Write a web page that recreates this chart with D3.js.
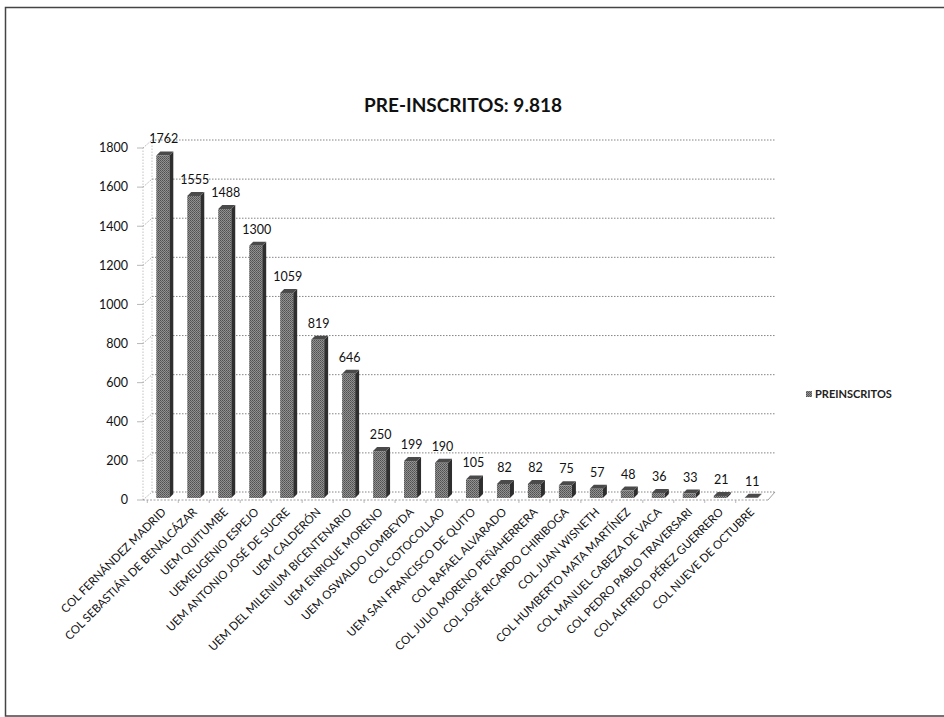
<!DOCTYPE html>
<html><head><meta charset="utf-8">
<script src="https://cdn.jsdelivr.net/npm/d3@7"></script>
<style>body{margin:0;background:#fff}svg{display:block}</style>
</head><body>
<svg id="c" width="944" height="717"></svg>
<script>
const categories = ["COL FERNÁNDEZ MADRID","COL SEBASTIÁN DE BENALCÁZAR","UEM QUITUMBE","UEMEUGENIO ESPEJO","UEM ANTONIO JOSÉ DE SUCRE","UEM CALDERÓN","UEM DEL MILENIUM BICENTENARIO","UEM ENRIQUE MORENO","UEM OSWALDO LOMBEYDA","COL COTOCOLLAO","UEM SAN FRANCISCO DE QUITO","COL RAFAEL ALVARADO","COL JULIO MORENO PEÑAHERRERA","COL JOSÉ RICARDO CHIRIBOGA","COL JUAN WISNETH","COL HUMBERTO MATA MARTÍNEZ","COL  MANUEL CABEZA DE VACA","COL PEDRO PABLO TRAVERSARI","COL ALFREDO PÉREZ GUERRERO","COL NUEVE DE OCTUBRE"];
const values = [1762,1555,1488,1300,1059,819,646,250,199,190,105,82,82,75,57,48,36,33,21,11];
const yTicks = [0,200,400,600,800,1000,1200,1400,1600,1800];
const title = "PRE-INSCRITOS: 9.818";
const seriesName = "PREINSCRITOS";

const svg = d3.select("#c");
const font = "Lato, 'Open Sans', sans-serif";
const wall = {dx: 9, dy: -8};

// outer frame
svg.append("rect").attr("x",5.5).attr("y",7.5).attr("width",950).attr("height",708.5)
  .attr("fill","none").attr("stroke","#444").attr("stroke-width",1.5);

const x = d3.scaleBand().domain(categories).range([147, 767]).paddingInner(0.58).paddingOuter(0.3);
const y = d3.scaleLinear().domain([0,1800]).range([500,148]);

// back-wall gridlines
const g = svg.append("g");
yTicks.forEach(t=>{
  g.append("line").attr("x1",143+wall.dx).attr("x2",775).attr("y1",y(t)+wall.dy).attr("y2",y(t)+wall.dy)
   .attr("stroke","#666").attr("stroke-width",0.8).attr("stroke-dasharray","1.5,1.5");
  g.append("line").attr("x1",137).attr("x2",143).attr("y1",y(t)).attr("y2",y(t)).attr("stroke","#999").attr("stroke-width",0.7);
  g.append("line").attr("x1",143).attr("x2",143+wall.dx).attr("y1",y(t)).attr("y2",y(t)+wall.dy)
   .attr("stroke","#888").attr("stroke-width",0.7).attr("stroke-dasharray","1.5,1.5");
});
g.append("line").attr("x1",143).attr("x2",143).attr("y1",y(0)).attr("y2",y(1800)).attr("stroke","#aaa").attr("stroke-width",0.7).attr("stroke-dasharray","1.5,1.5");
g.append("line").attr("x1",143+wall.dx).attr("x2",143+wall.dx).attr("y1",y(0)+wall.dy).attr("y2",y(1800)+wall.dy).attr("stroke","#aaa").attr("stroke-width",0.7).attr("stroke-dasharray","1.5,1.5");
g.append("line").attr("x1",143).attr("x2",768).attr("y1",y(0)).attr("y2",y(0)).attr("stroke","#888").attr("stroke-width",0.8).attr("stroke-dasharray","2,1.5");
g.append("line").attr("x1",768).attr("x2",775).attr("y1",y(0)).attr("y2",y(0)+wall.dy).attr("stroke","#888").attr("stroke-width",0.8);
categories.forEach((c,i)=>{
  const xx = x(c) - x.step()*x.paddingInner()/2;
  g.append("line").attr("x1",xx).attr("x2",xx).attr("y1",y(0)).attr("y2",y(0)+3).attr("stroke","#999").attr("stroke-width",0.7);
});

// y labels
svg.append("g").selectAll("text").data(yTicks).join("text")
  .attr("x",128).attr("y",d=>y(d)).attr("dy","0.35em").attr("text-anchor","end")
  .attr("font-family",font).attr("font-size",12.5).attr("fill","#111").text(d=>d);

// pattern for texture
const defs = svg.append("defs");
const pat = defs.append("pattern").attr("id","dots").attr("width",2).attr("height",2).attr("patternUnits","userSpaceOnUse");
pat.append("rect").attr("width",2).attr("height",2).attr("fill","#919191");
pat.append("rect").attr("width",1).attr("height",1).attr("fill","#505050");
pat.append("rect").attr("x",1).attr("y",1).attr("width",1).attr("height",1).attr("fill","#606060");

// bars
const bd = {dx: 4, dy: -4};
const bars = svg.append("g");
categories.forEach((c,i)=>{
  const v = values[i];
  const x0 = x(c), w = x.bandwidth(), yt = y(v), yb = y(0)-2;
  bars.append("path").attr("d",`M${x0+w},${yt}L${x0+w+bd.dx},${yt+bd.dy}L${x0+w+bd.dx},${yb+bd.dy}L${x0+w},${yb}Z`).attr("fill","#2e2e2e");
  bars.append("path").attr("d",`M${x0},${yt}L${x0+bd.dx},${yt+bd.dy}L${x0+w+bd.dx},${yt+bd.dy}L${x0+w},${yt}Z`).attr("fill","#4a4a4a");
  bars.append("rect").attr("x",x0).attr("y",yt).attr("width",w).attr("height",Math.max(0,yb-yt)).attr("fill","url(#dots)");
});

// data labels
svg.append("g").selectAll("text").data(values).join("text")
  .attr("x",(d,i)=>x(categories[i])+x.bandwidth()/2+1).attr("y",d=>y(d)-12)
  .attr("text-anchor","middle").attr("font-family",font).attr("font-size",12.5).attr("fill","#111").text(d=>d);

// x labels
svg.append("g").selectAll("text").data(categories).join("text")
  .attr("transform",(d)=>`translate(${x(d)+x.bandwidth()/2+1},${510}) rotate(-45)`)
  .attr("text-anchor","end").attr("dy","0.35em")
  .attr("font-family",font).attr("font-size",11.5).attr("fill","#111").text(d=>d);

// title
svg.append("text").attr("x",463).attr("y",112).attr("text-anchor","middle")
  .attr("font-family",font).attr("font-weight","bold").attr("font-size",19).attr("fill","#111").text(title);

// legend
svg.append("rect").attr("x",806).attr("y",391).attr("width",6).attr("height",6).attr("fill","url(#dots)");
svg.append("text").attr("x",815).attr("y",394).attr("dy","0.35em").attr("font-family",font).attr("font-weight","bold")
  .attr("font-size",11).attr("fill","#222").text(seriesName);
</script>
</body></html>
